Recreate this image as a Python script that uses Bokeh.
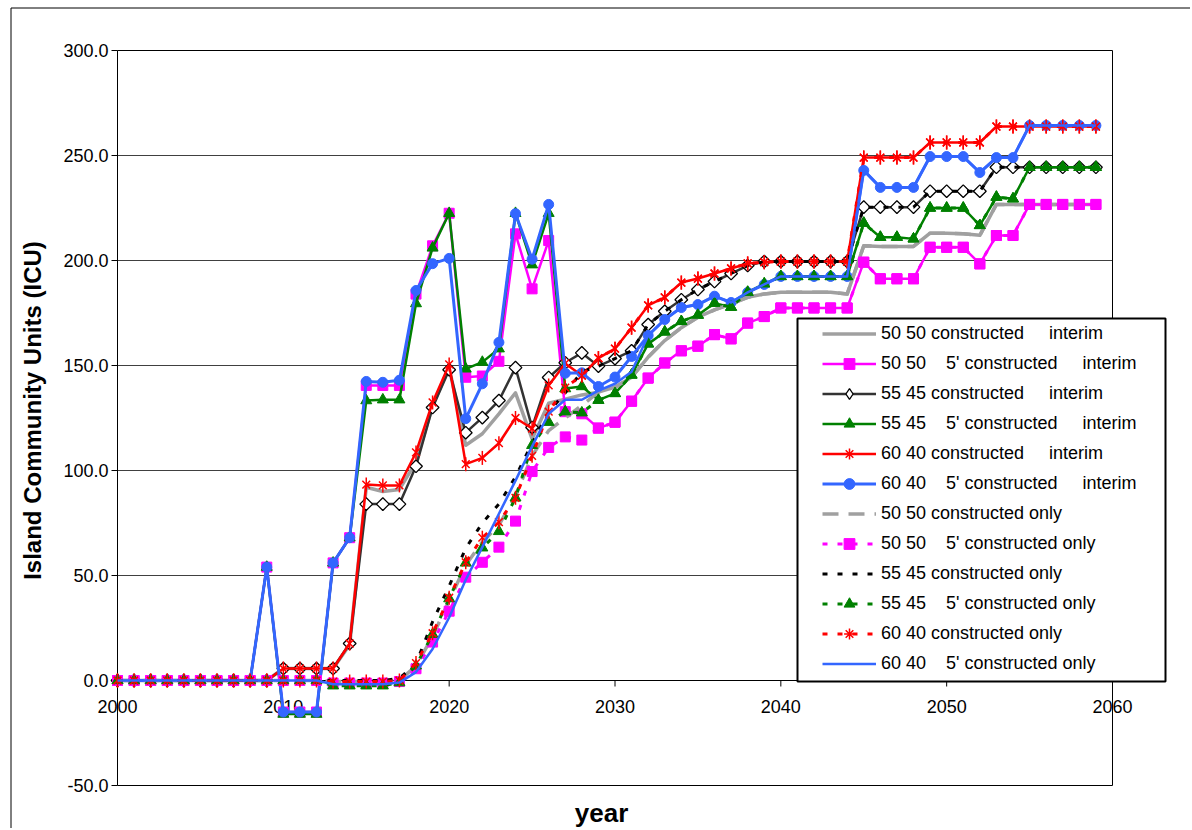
import numpy as np
from bokeh.plotting import figure
from bokeh.models import (Range1d, Legend, LegendItem, BoxAnnotation, Grid)
from bokeh.core.properties import value
from bokeh.embed import file_html
from bokeh.resources import INLINE

# ---------------- data ----------------
years = list(range(2000, 2060))
x_ticks = [2000, 2010, 2020, 2030, 2040, 2050, 2060]
x_tick_labels = ["2000", "2010", "2020", "2030", "2040", "2050", "2060"]
y_ticks = [-50, 0, 50, 100, 150, 200, 250, 300]
y_tick_labels = ["-50.0", "0.0", "50.0", "100.0", "150.0", "200.0", "250.0", "300.0"]
grid_values = [50, 100, 150, 200, 250]

NB = "\u00a0"
series_names = [
    "50 50 constructed" + NB * 4 + " interim",
    "50 50" + NB * 3 + " 5' constructed" + NB * 4 + " interim",
    "55 45 constructed" + NB * 4 + " interim",
    "55 45" + NB * 3 + " 5' constructed" + NB * 4 + " interim",
    "60 40 constructed" + NB * 4 + " interim",
    "60 40" + NB * 3 + " 5' constructed" + NB * 4 + " interim",
    "50 50 constructed only",
    "50 50" + NB * 3 + " 5' constructed only",
    "55 45 constructed only",
    "55 45" + NB * 3 + " 5' constructed only",
    "60 40 constructed only",
    "60 40" + NB * 3 + " 5' constructed only",
]

c5050_interim = ([0] * 10 + [5.7] * 4 + [17] + [92, 90, 91] + [104, 131, 149]
                 + [112, 117.5, 127, 137, 115, 132] + [134, 136]
                 + [137.3, 139.7, 144.4, 154, 161.9, 168, 173, 176.5, 179.4, 182.5, 184.1]
                 + [184.9] * 4 + [184] + [207, 206.7, 206.7, 206.7]
                 + [213, 213, 212.7, 212] + [226.7] * 7)
f5050_interim = ([0] * 9 + [54] + [-15] * 3 + [56, 68] + [140.5] * 3 + [184, 207, 222.5]
                 + [144.4, 145, 152, 212.7, 186.5, 209.5] + [128, 127]
                 + [120.2, 123, 133, 144, 151.2, 157, 159.2, 164.7, 162.7, 170.2, 173.3]
                 + [177.4] * 5 + [199.2] + [191.3] * 3 + [206.3] * 3 + [198.4]
                 + [211.9] * 2 + [226.7] * 5)
c5545_interim = ([0] * 10 + [5.7] * 4 + [17.6] + [84] * 3 + [102, 130, 148]
                 + [118, 125.2, 133.3, 149, 120.5, 144.3] + [151.3, 156]
                 + [149.7, 153.3, 157, 169.5, 175.8, 181.3, 186.2, 190, 193.8, 197.6, 199.5]
                 + [199.5] * 5 + [225.4] * 4 + [233] * 4 + [244.4] * 7)
f5545_interim = ([0] * 9 + [54] + [-16] * 3 + [56, 68] + [133.3, 133.7, 133.7] + [179.5, 206, 222.5]
                 + [148.4, 151.6, 158, 222.5, 198, 222.5] + [139, 140]
                 + [133.5, 136.7, 145.5, 160.3, 166, 171, 174, 179.7, 177.8, 184.9, 188.9]
                 + [192.4] * 5 + [217.8, 211.1, 211.1, 210.3] + [225] * 3 + [216.7]
                 + [230.2, 229.4] + [244.4] * 5)
c6040_interim = ([0] * 10 + [5.7] * 4 + [17.6] + [93.3, 92.9, 92.9] + [108.6, 132.4, 150.5]
                 + [103, 106, 113, 125, 120, 140.5] + [151, 145.2]
                 + [153.5, 158, 168, 178.6, 182.4, 189.5, 191.4, 193.8, 196.2, 198.6, 199.2]
                 + [199.5] * 5 + [249] * 4 + [256.2] * 4 + [263.8] * 7)
f6040_interim = ([0] * 9 + [54] + [-15] * 3 + [56, 68] + [142.4, 142, 143] + [185.7, 198.5, 201]
                 + [124.7, 141.3, 161, 222.3, 200.6, 226.7] + [146.3, 146.5]
                 + [140, 144.5, 154.3, 164.3, 171.9, 177.6, 179, 183, 180, 184.8, 188.6]
                 + [192.4] * 5 + [242.9] + [234.8] * 3 + [249.5] * 3 + [241.9]
                 + [249] * 2 + [264.3] * 5)

c5050_only = ([0] * 13 + [-0.5] * 4 + [0]
              + [7, 21, 38, 55, 66, 74, 88, 107, 119, 125, 131] + c5050_interim[29:])
f5050_only = ([0] * 13 + [-1.2] * 4 + [-0.5]
              + [5.6, 18.3, 33, 49.2, 56.3, 63.5, 75.9, 99.5, 111, 116, 114.5] + f5050_interim[29:])
c5545_only = ([0] * 17 + [1]
              + [8, 28, 45, 63, 75, 84, 97, 113, 128, 137, 147] + c5545_interim[29:])
f5545_only = ([0] * 13 + [-2.5] * 4 + [-1]
              + [7, 22, 39, 56, 63.2, 71, 87, 112, 123, 128, 127.5] + f5545_interim[29:])
c6040_only = ([0] * 13 + [-0.5] * 4 + [0]
              + [8.3, 22.5, 39.4, 56.3, 68, 75.4, 87, 107, 128, 139.5] + c6040_interim[28:])
f6040_only = ([0] * 13 + [-1.8] * 4 + [-1]
              + [4, 15, 30, 48, 63.5, 79.4, 95.2, 111.5, 127, 133.7, 133.7, 138, 141.3, 147]
              + f6040_interim[32:])

all_series = [c5050_interim, f5050_interim, c5545_interim, f5545_interim, c6040_interim,
              f6040_interim, c5050_only, f5050_only, c5545_only, f5545_only, c6040_only,
              f6040_only]

# ---------------- layout (pixels) ----------------
W, H = 1190, 828
PLOT_L, PLOT_R, PLOT_T, PLOT_B = 117, 1112, 50, 785
X_MIN, X_MAX, Y_MIN, Y_MAX = 2000, 2060, -50, 300
PPY = (PLOT_R - PLOT_L) / (X_MAX - X_MIN)
PPU = (PLOT_B - PLOT_T) / (Y_MAX - Y_MIN)
X0 = X_MIN - PLOT_L / PPY
Y1 = Y_MAX + PLOT_T / PPU


def px_x(px):
    return X0 + px / PPY


def px_y(py):
    return Y1 - py / PPU


FONT = "Liberation Sans"
GRAY = "#A0A0A0"
MAG = "#FF00FF"
DARK = "#333333"
GREEN = "#008000"
RED = "#FF0000"
BLUE = "#3366FF"

styles = [
    dict(color=GRAY, width=3.5, dash="solid", marker=None),
    dict(color=MAG, width=2.5, dash="solid", marker="square"),
    dict(color=DARK, width=2.5, dash="solid", marker="diamond"),
    dict(color=GREEN, width=2.5, dash="solid", marker="triangle"),
    dict(color=RED, width=2.5, dash="solid", marker="star"),
    dict(color=BLUE, width=3, dash="solid", marker="circle"),
    dict(color=GRAY, width=3.5, dash="16 10", marker=None),
    dict(color=MAG, width=3, dash="5 10", marker="square"),
    dict(color="#000000", width=3, dash="5 10", marker=None),
    dict(color=GREEN, width=3, dash="5 10", marker="triangle"),
    dict(color=RED, width=3, dash="5 10", marker="star"),
    dict(color=BLUE, width=2.5, dash="solid", marker=None),
]

p = figure(width=W, height=H, x_range=Range1d(px_x(0), px_x(W)),
           y_range=Range1d(px_y(H), px_y(0)),
           output_backend="svg", toolbar_location=None,
           x_axis_location=None, y_axis_location=None,
           min_border=0, min_border_left=0, min_border_right=0,
           min_border_top=0, min_border_bottom=0,
           background_fill_color="white", border_fill_color="white")
p.title.visible = False
p.outline_line_color = None
for r in list(p.center):
    if isinstance(r, Grid):
        r.visible = False

# ---- plot area: grid lines, border, axes ----
n_g = len(grid_values)
p.segment(x0=[X_MIN] * n_g, y0=grid_values, x1=[X_MAX] * n_g, y1=grid_values,
          line_color="#404040", line_width=1)
p.quad(left=[X_MIN], right=[X_MAX], bottom=[Y_MIN], top=[Y_MAX],
       fill_alpha=0, line_color="black", line_width=1)

# x axis crossing at 0
p.segment(x0=[X_MIN], y0=[0], x1=[X_MAX], y1=[0], line_color="black", line_width=1)
p.segment(x0=x_ticks, y0=[0] * len(x_ticks), x1=x_ticks, y1=[-6 / PPU] * len(x_ticks),
          line_color="black", line_width=1)
p.text(x=x_ticks, y=[-26 / PPU] * len(x_ticks), text=x_tick_labels,
       text_font=value(FONT), text_font_size=value("18px"), text_color="black",
       text_align="center", text_baseline="middle")

# y axis
p.segment(x0=[X_MIN - 6 / PPY] * len(y_ticks), y0=y_ticks, x1=[X_MIN] * len(y_ticks),
          y1=y_ticks, line_color="black", line_width=1)
p.text(x=[X_MIN - 9 / PPY] * len(y_ticks), y=y_ticks, text=y_tick_labels,
       text_font=value(FONT), text_font_size=value("18px"), text_color="black",
       text_align="right", text_baseline="middle")

# axis titles
p.text(x=[px_x(32)], y=[px_y(410)], text=["Island Community Units (ICU)"], angle=np.pi / 2,
       text_font=value(FONT), text_font_size=value("24px"), text_font_style="bold",
       text_color="black", text_align="center", text_baseline="middle")
p.text(x=[px_x(601)], y=[px_y(812)], text=["year"],
       text_font=value(FONT), text_font_size=value("26px"), text_font_style="bold",
       text_color="black", text_align="center", text_baseline="middle")

# ---- series ----
NAN = [float("nan")]
items = []
for name, vals, st in zip(series_names, all_series, styles):
    line_r = p.line(years, vals, line_color=st["color"], line_width=st["width"],
                    line_dash=st["dash"], line_join="round")
    rs = [line_r]
    m = st["marker"]
    if m == "square":
        rs.append(p.scatter(years, vals, marker="square", size=10, fill_color=MAG,
                            line_color=MAG, line_width=1))
    elif m == "diamond":
        p.scatter(years, vals, marker="square", angle=np.pi / 4, size=9,
                  fill_color="white", line_color="black", line_width=1.3)
        # legend-only glyph (legend markers are drawn unrotated)
        rs.append(p.scatter(NAN, NAN, marker="diamond", size=12,
                            fill_color="white", line_color="black", line_width=1.3))
    elif m == "triangle":
        rs.append(p.scatter(years, vals, marker="triangle", size=11, fill_color=GREEN,
                            line_color=GREEN, line_width=1))
    elif m == "star":
        p.scatter(years, vals, marker="x", size=11, line_color=RED, line_width=1.5)
        p.scatter(years, vals, marker="dash", angle=np.pi / 2, size=14,
                  line_color=RED, line_width=1.5)
        rs.append(p.scatter(NAN, NAN, marker="asterisk", size=12, line_color=RED,
                            line_width=1.5))
    elif m == "circle":
        rs.append(p.scatter(years, vals, marker="circle", size=10, fill_color=BLUE,
                            line_color=BLUE, line_width=1))
    items.append(LegendItem(label=name, renderers=rs))

# ---- legend ----
p.add_layout(BoxAnnotation(left=797, right=1165, top=318, bottom=681,
                           left_units="canvas", right_units="canvas",
                           top_units="canvas", bottom_units="canvas",
                           fill_color="white", fill_alpha=1, line_color="black",
                           line_alpha=1, line_width=2))
legend = Legend(items=items, location=(822, 151), orientation="vertical",
                glyph_width=54, glyph_height=27, label_height=27, label_standoff=5,
                spacing=3, padding=3, margin=0, label_text_font=FONT,
                label_text_font_size="18px", label_text_color="black",
                border_line_color=None, background_fill_alpha=0)
p.add_layout(legend)

# outer chart frame (left and top edges visible)
p.add_layout(BoxAnnotation(left=10.5, right=1300, top=7.5, bottom=900,
                           left_units="canvas", right_units="canvas",
                           top_units="canvas", bottom_units="canvas",
                           fill_alpha=0, line_color="black", line_alpha=1, line_width=1))

open("out.html", "w").write(file_html(p, INLINE))
